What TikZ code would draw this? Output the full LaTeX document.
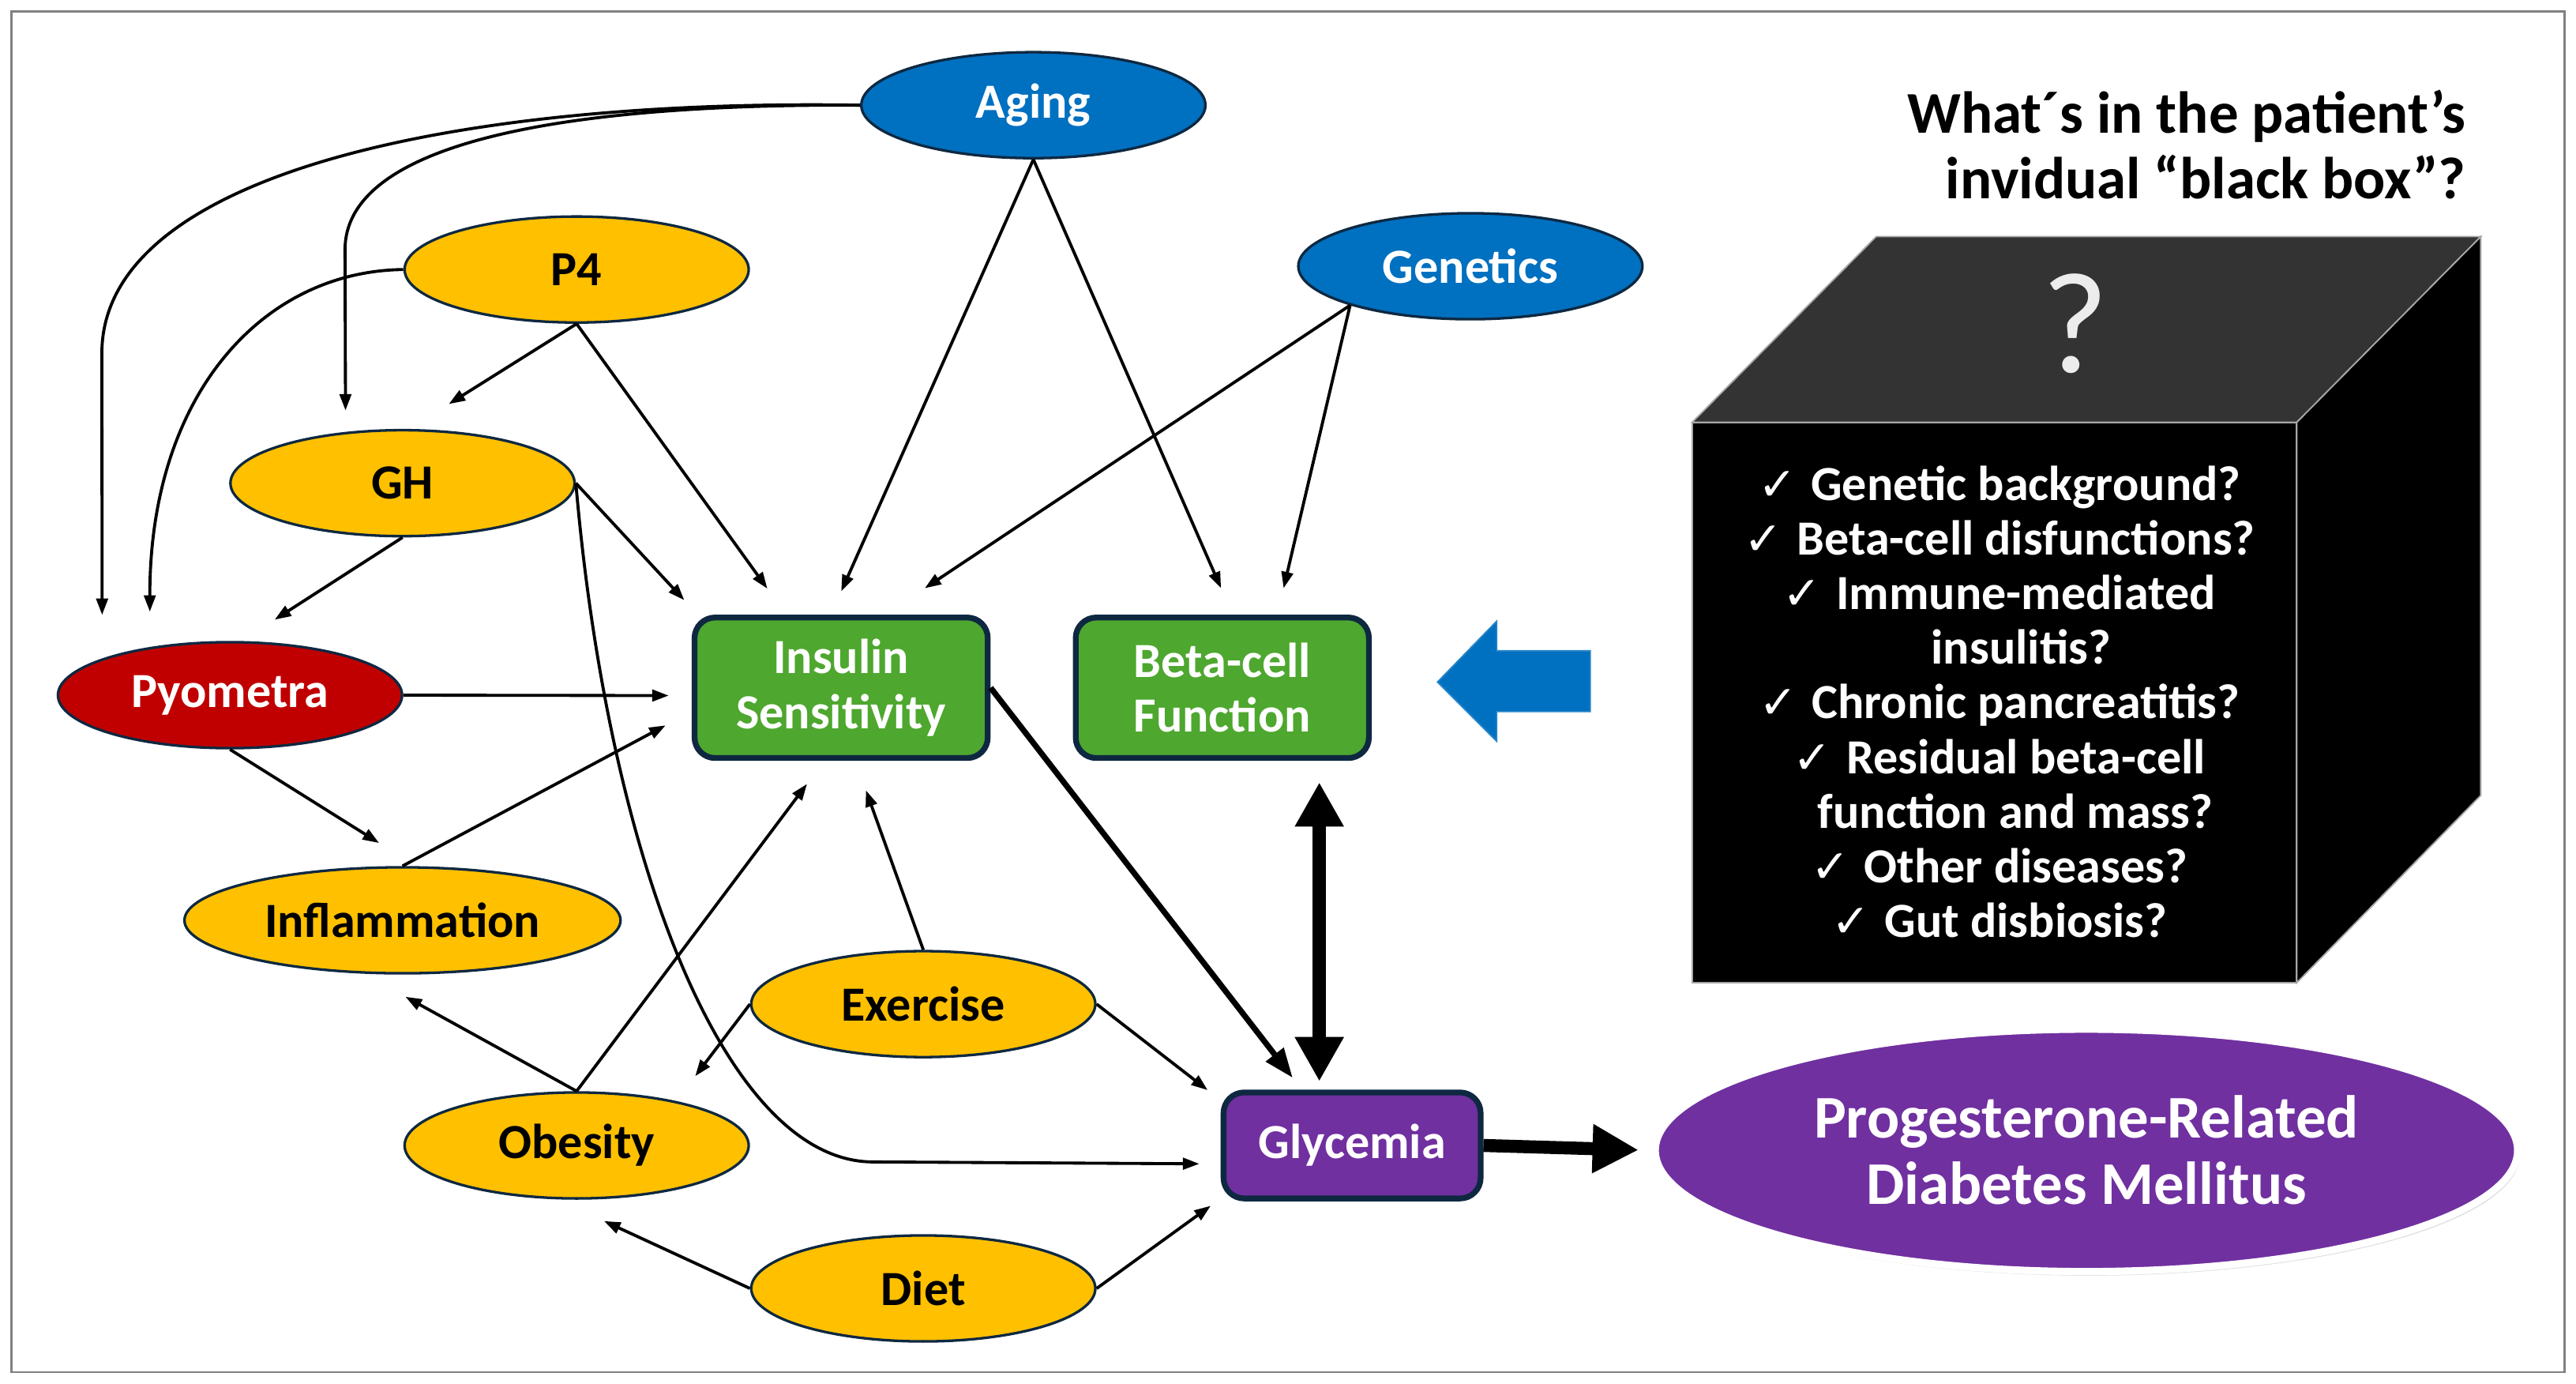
\documentclass[tikz,border=0pt]{standalone}
\usepackage{fontspec}
\setmainfont{Carlito}
\newfontfamily\tickfont{DejaVu Sans}
\usetikzlibrary{shapes.geometric,arrows.meta,shadows}

\definecolor{goldC}{HTML}{FFC000}
\definecolor{blueC}{HTML}{0070C0}
\definecolor{redC}{HTML}{C00000}
\definecolor{greenC}{HTML}{4EA72E}
\definecolor{purpC}{HTML}{7030A0}
\definecolor{navyC}{HTML}{0E2841}
\definecolor{topC}{HTML}{333333}

\newcommand{\chk}{{\tickfont\fontsize{16}{12}\selectfont ✓}\hspace{5pt}}

\tikzset{
  oval/.style={ellipse, draw=navyC, line width=0.9pt, fill=goldC, inner sep=0pt,
    minimum width=4.19cm, minimum height=1.29cm, font=\fontsize{17}{19}\selectfont\bfseries},
  bluoval/.style={oval, fill=blueC, text=white},
  box/.style={rectangle, rounded corners=0.25cm, draw=navyC, line width=2pt, fill=greenC,
    text=white, align=center, minimum width=3.57cm, minimum height=1.71cm,
    font=\fontsize{17}{19}\selectfont\bfseries},
  arr/.style={-{Triangle[length=0.2cm,width=0.14cm]}, line width=1.05pt},
  arrmid/.style={-{Triangle[length=0.36cm,width=0.26cm]}, line width=2pt},
  arrbig/.style={{Triangle[length=0.54cm,width=0.56cm]}-{Triangle[length=0.54cm,width=0.56cm]}, line width=4.5pt},
  arrfat/.style={-{Triangle[length=0.56cm,width=0.56cm]}, line width=4.5pt}
}

\begin{document}
\begin{tikzpicture}[x=0.02cm,y=-0.02cm]
   \useasboundingbox (0,0) rectangle (1568,842);
   \draw[gray, line width=0.6pt] (7,7) rectangle (1561,835);

   % factors
   \node[bluoval] (Aging) at (629,64) {Aging};
   \node[bluoval] (Gen) at (895,162) {Genetics};
   \node[oval] (P4) at (351,164) {P4};
   \node[oval] (GH) at (245,294) {GH};
   \node[oval, fill=redC, text=white] (Pyo) at (140,423) {Pyometra};
   \node[oval, minimum width=5.31cm] (Infl) at (245,560) {Inflammation};
   \node[oval] (Exer) at (562,611) {Exercise};
   \node[oval] (Obes) at (351,697) {Obesity};
   \node[oval] (Diet) at (562,784) {Diet};

   \node[box] (Ins) at (512,418.5) {Insulin\\Sensitivity};
   \node[box] (Beta) at (744,418.5) {Beta-cell\\Function};
   \node[box, fill=purpC, minimum width=3.13cm, minimum height=1.29cm] (Gly) at (823,697) {Glycemia};
   \node[ellipse, fill=purpC, draw=white, line width=2.5pt, minimum width=10.5cm, minimum height=2.95cm,
     text=white, align=center, font=\fontsize{21}{23}\selectfont\bfseries,
     drop shadow={shadow xshift=0.03cm, shadow yshift=-0.05cm, fill=black!25}] (Prog) at (1270,700)
     {Progesterone-Related\\Diabetes Mellitus};

   % black box
   \filldraw[fill=topC, draw=gray!70, line width=0.5pt] (1030,257) -- (1142,144) -- (1510,144) -- (1398,257) -- cycle;
   \filldraw[fill=black, draw=gray!70, line width=0.5pt] (1398,257) -- (1510,144) -- (1510,484) -- (1398,598) -- cycle;
   \filldraw[fill=black, draw=gray!70, line width=0.5pt] (1030,257) rectangle (1398,598);
   \node[font=\fontsize{50}{50}\selectfont, text=white!85!gray] (qmark) at (1263,197) {?};
   \node[font=\fontsize{17}{18.9}\selectfont\bfseries, text=white, align=center] (list) at (1217,427)
     {\chk Genetic background?\\
      \chk Beta-cell disfunctions?\\
      \chk Immune-mediated\\
      \hspace*{15pt}insulitis?\\
      \chk Chronic pancreatitis?\\
      \chk Residual beta-cell\\
      \hspace*{11pt}function and mass?\\
      \chk Other diseases?\\
      \chk Gut disbiosis?};
   \node[font=\fontsize{20.5}{22.5}\selectfont\bfseries, align=right, anchor=east] (title) at (1507,88)
     {What´s in the patient’s\\invidual “black box”?};

   % blue arrow
   \filldraw[fill=blueC, draw=blueC!85!white, line width=0.5pt] (968,396) -- (911,396) -- (911,378) -- (875,415)
     -- (911,451) -- (911,433) -- (968,433) -- cycle;

   % connectors
   \draw[arr, shorten >=0.53cm] (Aging.west) .. controls (280,60) and (62,105) .. (62,215) -- (Pyo.164);
   \draw[arr, shorten >=0.26cm] (Aging.west) .. controls (330,63) and (210,90) .. (210,152) -- (GH.138);
   \draw[arr, shorten >=0.43cm] (P4.west) .. controls (160,165) and (91,240) .. (Pyo.149);
   \draw[arr, shorten >=0.57cm] (P4.south) -- (GH.83);
   \draw[arr, shorten >=0.39cm] (P4.south) -- (Ins.127);
   \draw[arr, shorten >=0.24cm] (GH.east) -- (Ins.153);
   \draw[arr, shorten >=0.48cm] (GH.south) -- (Pyo.78);
   \draw[arr, shorten >=0.26cm] (GH.east) .. controls (370,520) and (440,705) .. (530,707) -- (Gly.188);
   \draw[arr, shorten >=0.31cm] (Aging.south) -- (Ins.98);
   \draw[arr, shorten >=0.35cm] (Aging.south) -- (Beta.82);
   \draw[arr, shorten >=0.58cm] (Gen.198) -- (Ins.59);
   \draw[arr, shorten >=0.33cm] (Gen.198) -- (Beta.53);
   \draw[arr, shorten >=0.28cm] (Pyo.east) -- (Ins.183);
   \draw[arr, shorten >=0.53cm] (Pyo.south) -- (Infl.76);
   \draw[arr, shorten >=0.36cm] (Infl.north) -- (Ins.189);
   \draw[arr, shorten >=0.58cm] (Obes.north) -- (Infl.234);
   \draw[arr, shorten >=0.35cm] (Obes.north) -- (Ins.257);
   \draw[arr, shorten >=0.38cm] (Exer.north) -- (Ins.281);
   \draw[arr, shorten >=0.38cm] (Exer.west) -- (Obes.24);
   \draw[arr, shorten >=0.2cm] (Exer.east) -- (Gly.161);
   \draw[arr, shorten >=0.63cm] (Diet.west) -- (Obes.250);
   \draw[arr, shorten >=0.15cm] (Diet.east) -- (Gly.202);

   \draw[arrmid, shorten >=0.18cm] (Ins.east) -- (Gly.132);
   \draw[arrbig, shorten <=0.26cm, shorten >=0.1cm] (Beta.323) -- (Beta.323 |- Gly.north);
   \draw[arrfat, shorten >=0.16cm] (Gly.east) -- (Prog.west);
\end{tikzpicture}
\end{document}
